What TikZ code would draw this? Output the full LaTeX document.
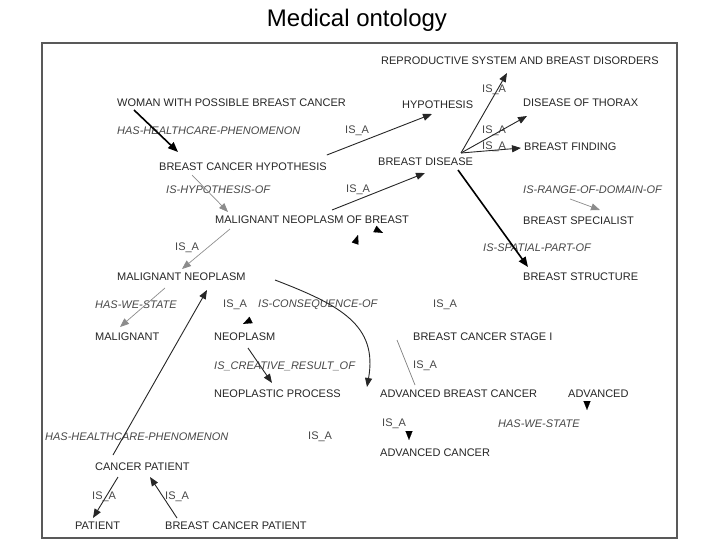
\documentclass[tikz,border=0pt]{standalone}
\usepackage{fontspec}
\setmainfont{Liberation Sans}
\usetikzlibrary{arrows.meta,calc}
\begin{document}
\begin{tikzpicture}[x=1pt,y=-1pt,
  nd/.style={anchor=west,inner sep=0pt,font=\fontsize{11}{12}\selectfont,text=black!85},
  lbl/.style={anchor=west,inner sep=0pt,font=\fontsize{11}{12}\selectfont\itshape,text=black!72},
  isa/.style={anchor=west,inner sep=0pt,font=\fontsize{11}{12}\selectfont,text=black!72},
  arr/.style={draw=black!85,line width=0.9pt,-{Triangle[length=9pt,width=7pt]}},
  thick arr/.style={draw=black,line width=1.6pt,-{Triangle[length=10pt,width=8pt]}},
  light arr/.style={draw=black!45,line width=0.7pt,-{Triangle[length=9pt,width=7pt]}},
  light line/.style={draw=black!50,line width=0.7pt},
  head/.style={draw=black,line width=0.1pt,-{Triangle[length=9pt,width=7pt]}}
]
\useasboundingbox (0,0) rectangle (720,540);
\fill[white] (0,0) rectangle (720,540);
\node[font=\fontsize{24}{28}\selectfont] (title) at (357,20) {Medical ontology};
\draw[black!65,line width=1.4pt] (42,43) rectangle (677,538);

% concept nodes
\node[nd] (repro) at (381,61) {REPRODUCTIVE SYSTEM AND BREAST DISORDERS};
\node[nd] (woman) at (117,103) {WOMAN WITH POSSIBLE BREAST CANCER};
\node[nd] (hypo) at (402,105) {HYPOTHESIS};
\node[nd] (thorax) at (523,103) {DISEASE OF THORAX};
\node[nd] (bfinding) at (524,147) {BREAST FINDING};
\node[nd] (bch) at (159,167) {BREAST CANCER HYPOTHESIS};
\node[nd] (bdisease) at (378,162) {BREAST DISEASE};
\node[nd] (mnob) at (215,220) {MALIGNANT NEOPLASM OF BREAST};
\node[nd] (bspec) at (523,221) {BREAST SPECIALIST};
\node[nd] (bstruct) at (523,277) {BREAST STRUCTURE};
\node[nd] (mn) at (117,277) {MALIGNANT NEOPLASM};
\node[nd] (malignant) at (95,337) {MALIGNANT};
\node[nd] (neoplasm) at (214,337) {NEOPLASM};
\node[nd] (bcs1) at (413,337) {BREAST CANCER STAGE I};
\node[nd] (nprocess) at (214,394) {NEOPLASTIC PROCESS};
\node[nd] (abc) at (380,394) {ADVANCED BREAST CANCER};
\node[nd] (advanced) at (568,394) {ADVANCED};
\node[nd] (acancer) at (380,453) {ADVANCED CANCER};
\node[nd] (cpatient) at (95,467) {CANCER PATIENT};
\node[nd] (patient) at (75,526) {PATIENT};
\node[nd] (bcpatient) at (165,526) {BREAST CANCER PATIENT};

% relation labels
\node[isa] (l1) at (482,90) {IS\_A};
\node[lbl] (l2) at (117,131) {HAS-HEALTHCARE-PHENOMENON};
\node[isa] (l3) at (345,131) {IS\_A};
\node[isa] (l4) at (482,131) {IS\_A};
\node[isa] (l5) at (482,147) {IS\_A};
\node[lbl] (l6) at (166,190) {IS-HYPOTHESIS-OF};
\node[isa] (l7) at (346,190) {IS\_A};
\node[lbl] (l8) at (523,190) {IS-RANGE-OF-DOMAIN-OF};
\node[isa] (l9) at (175,248) {IS\_A};
\node[lbl] (l10) at (483,248) {IS-SPATIAL-PART-OF};
\node[lbl] (l11) at (95,305) {HAS-WE-STATE};
\node[isa] (l12) at (223,305) {IS\_A};
\node[lbl] (l13) at (258,305) {IS-CONSEQUENCE-OF};
\node[isa] (l14) at (433,305) {IS\_A};
\node[lbl] (l15) at (214,366) {IS\_CREATIVE\_RESULT\_OF};
\node[isa] (l16) at (413,366) {IS\_A};
\node[lbl] (l17) at (45,437) {HAS-HEALTHCARE-PHENOMENON};
\node[isa] (l18) at (308,437) {IS\_A};
\node[isa] (l19) at (382,424) {IS\_A};
\node[lbl] (l20) at (498,424) {HAS-WE-STATE};
\node[isa] (l21) at (92,497) {IS\_A};
\node[isa] (l22) at (165,497) {IS\_A};

% connectors
\draw[thick arr] ($(woman.west)+(17,7)$) -- ($(bch.west)+(19,-15)$);
\draw[light arr] ($(bch.west)+(33,8)$) -- ($(mnob.west)+(13,-8)$);
\draw[arr] ($(bch.east)+(0,-12)$) -- ($(hypo.west)+(30,9)$);
\draw[arr] ($(mnob.west)+(117,-10)$) -- ($(bdisease.west)+(47,11)$);
\draw[arr] ($(bdisease.west)+(83,-9)$) -- ($(repro.west)+(126,12)$);
\draw[arr] ($(bdisease.west)+(83,-9)$) -- ($(thorax.west)+(4,13)$);
\draw[arr] ($(bdisease.west)+(83,-9)$) -- ($(bfinding.west)+(-3,1)$);
\draw[thick arr] ($(bdisease.west)+(80,8)$) -- ($(bstruct.west)+(5,-10)$);
\draw[light arr] ($(l8.west)+(47,9)$) -- ($(bspec.west)+(77,-11)$);
\draw[light arr] ($(mnob.west)+(15,9)$) -- ($(mn.west)+(65,-8)$);
\draw[light arr] ($(mn.west)+(48,11)$) -- ($(malignant.west)+(25,-10)$);
\draw[arr] ($(neoplasm.west)+(34,11)$) -- ($(nprocess.west)+(58,-11)$);
\draw[arr] ($(mn.west)+(158,3)$) .. controls (340,305) and (378,325) .. ($(abc.west)+(-13,-7)$);
\draw[light line] ($(bcs1.west)+(-16,3)$) -- ($(abc.west)+(35,-9)$);
\draw[arr] ($(cpatient.west)+(18,-12)$) -- ($(mn.west)+(90,13)$);
\draw[arr] ($(cpatient.west)+(23,10)$) -- ($(patient.west)+(18,-8)$);
\draw[arr] ($(bcpatient.west)+(12,-8)$) -- ($(cpatient.west)+(55,10)$);

% isolated arrowheads
\draw[head] ($(neoplasm.west)+(37,-17)$) -- ($(neoplasm.west)+(29,-13)$);
\draw[head] ($(mnob.west)+(140,24)$) -- ($(mnob.west)+(143,15)$);
\draw[head] ($(mnob.west)+(160,9)$) -- ($(mnob.west)+(168,13)$);
\draw[head] ($(advanced.west)+(19,7)$) -- ($(advanced.west)+(19,16)$);
\draw[head] ($(acancer.west)+(29,-22)$) -- ($(acancer.west)+(29,-13)$);
\end{tikzpicture}
\end{document}
